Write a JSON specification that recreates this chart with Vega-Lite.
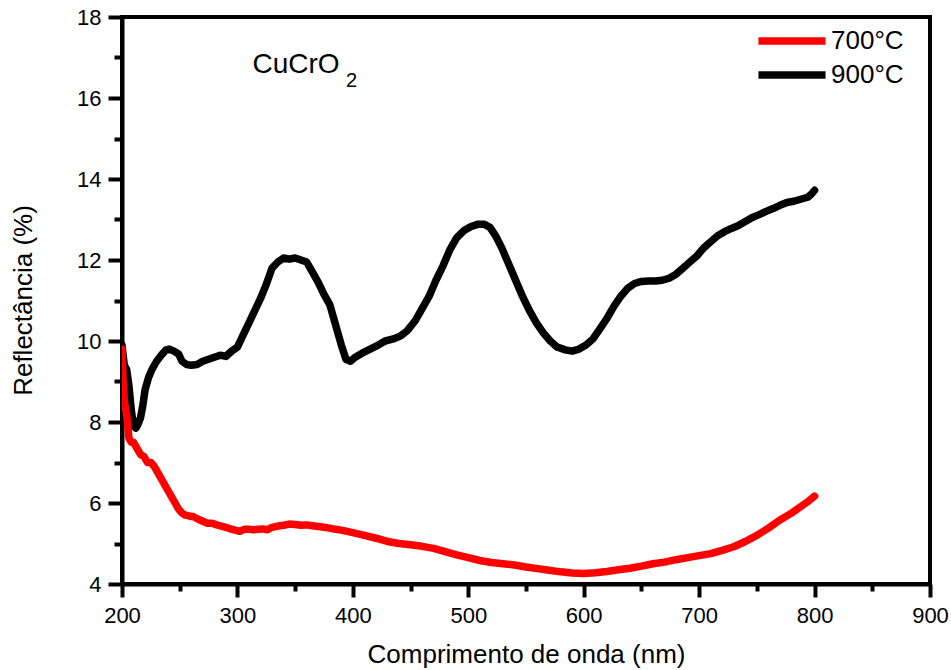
{
  "$schema": "https://vega.github.io/schema/vega-lite/v6.json",
  "width": 808,
  "height": 567,
  "autosize": "none",
  "padding": {"left": 122, "top": 17, "right": 21, "bottom": 86},
  "background": "white",
  "config": {
    "font": "Liberation Sans",
    "view": {"stroke": "black", "strokeWidth": 4},
    "axis": {"grid": false, "domainColor": "black", "domainWidth": 4, "tickColor": "black", "labelColor": "black", "titleColor": "black", "labelFont": "Liberation Sans", "titleFont": "Liberation Sans", "titleFontWeight": "normal", "labelFontSize": 22, "titleFontSize": 26, "tickWidth": 4}
  },
  "datasets": {
    "spectra": [
      {"nm": 200, "R": 9.9, "T": "900°C"}, {"nm": 202, "R": 9.4, "T": "900°C"}, {"nm": 204, "R": 9.3, "T": "900°C"}, {"nm": 206, "R": 8.9, "T": "900°C"}, {"nm": 208, "R": 8.3, "T": "900°C"}, {"nm": 210, "R": 7.9, "T": "900°C"}, {"nm": 212, "R": 7.85, "T": "900°C"}, {"nm": 214, "R": 7.95, "T": "900°C"}, {"nm": 216, "R": 8.1, "T": "900°C"}, {"nm": 218, "R": 8.4, "T": "900°C"}, {"nm": 220, "R": 8.8, "T": "900°C"}, {"nm": 223, "R": 9.1, "T": "900°C"}, {"nm": 226, "R": 9.3, "T": "900°C"}, {"nm": 230, "R": 9.5, "T": "900°C"}, {"nm": 234, "R": 9.65, "T": "900°C"}, {"nm": 238, "R": 9.78, "T": "900°C"}, {"nm": 241, "R": 9.8, "T": "900°C"}, {"nm": 245, "R": 9.75, "T": "900°C"}, {"nm": 249, "R": 9.68, "T": "900°C"}, {"nm": 252, "R": 9.5, "T": "900°C"}, {"nm": 256, "R": 9.42, "T": "900°C"}, {"nm": 260, "R": 9.4, "T": "900°C"}, {"nm": 265, "R": 9.42, "T": "900°C"}, {"nm": 270, "R": 9.5, "T": "900°C"}, {"nm": 275, "R": 9.55, "T": "900°C"}, {"nm": 280, "R": 9.6, "T": "900°C"}, {"nm": 285, "R": 9.65, "T": "900°C"}, {"nm": 290, "R": 9.62, "T": "900°C"}, {"nm": 295, "R": 9.75, "T": "900°C"}, {"nm": 300, "R": 9.85, "T": "900°C"}, {"nm": 305, "R": 10.15, "T": "900°C"}, {"nm": 310, "R": 10.45, "T": "900°C"}, {"nm": 315, "R": 10.75, "T": "900°C"}, {"nm": 320, "R": 11.05, "T": "900°C"}, {"nm": 325, "R": 11.4, "T": "900°C"}, {"nm": 330, "R": 11.8, "T": "900°C"}, {"nm": 335, "R": 11.95, "T": "900°C"}, {"nm": 340, "R": 12.05, "T": "900°C"}, {"nm": 345, "R": 12.02, "T": "900°C"}, {"nm": 350, "R": 12.05, "T": "900°C"}, {"nm": 355, "R": 12.0, "T": "900°C"}, {"nm": 360, "R": 11.95, "T": "900°C"}, {"nm": 365, "R": 11.7, "T": "900°C"}, {"nm": 370, "R": 11.45, "T": "900°C"}, {"nm": 375, "R": 11.15, "T": "900°C"}, {"nm": 380, "R": 10.9, "T": "900°C"}, {"nm": 385, "R": 10.4, "T": "900°C"}, {"nm": 390, "R": 9.9, "T": "900°C"}, {"nm": 394, "R": 9.55, "T": "900°C"}, {"nm": 398, "R": 9.5, "T": "900°C"}, {"nm": 402, "R": 9.6, "T": "900°C"}, {"nm": 408, "R": 9.7, "T": "900°C"}, {"nm": 415, "R": 9.8, "T": "900°C"}, {"nm": 422, "R": 9.9, "T": "900°C"}, {"nm": 428, "R": 10.0, "T": "900°C"}, {"nm": 435, "R": 10.05, "T": "900°C"}, {"nm": 441, "R": 10.12, "T": "900°C"}, {"nm": 447, "R": 10.25, "T": "900°C"}, {"nm": 454, "R": 10.5, "T": "900°C"}, {"nm": 460, "R": 10.8, "T": "900°C"}, {"nm": 466, "R": 11.1, "T": "900°C"}, {"nm": 472, "R": 11.5, "T": "900°C"}, {"nm": 478, "R": 11.85, "T": "900°C"}, {"nm": 484, "R": 12.25, "T": "900°C"}, {"nm": 490, "R": 12.55, "T": "900°C"}, {"nm": 496, "R": 12.72, "T": "900°C"}, {"nm": 502, "R": 12.82, "T": "900°C"}, {"nm": 508, "R": 12.88, "T": "900°C"}, {"nm": 514, "R": 12.88, "T": "900°C"}, {"nm": 519, "R": 12.8, "T": "900°C"}, {"nm": 524, "R": 12.58, "T": "900°C"}, {"nm": 529, "R": 12.3, "T": "900°C"}, {"nm": 535, "R": 11.9, "T": "900°C"}, {"nm": 541, "R": 11.5, "T": "900°C"}, {"nm": 547, "R": 11.1, "T": "900°C"}, {"nm": 553, "R": 10.75, "T": "900°C"}, {"nm": 559, "R": 10.45, "T": "900°C"}, {"nm": 565, "R": 10.2, "T": "900°C"}, {"nm": 571, "R": 10.0, "T": "900°C"}, {"nm": 577, "R": 9.85, "T": "900°C"}, {"nm": 584, "R": 9.78, "T": "900°C"}, {"nm": 590, "R": 9.75, "T": "900°C"}, {"nm": 596, "R": 9.8, "T": "900°C"}, {"nm": 602, "R": 9.9, "T": "900°C"}, {"nm": 608, "R": 10.05, "T": "900°C"}, {"nm": 614, "R": 10.3, "T": "900°C"}, {"nm": 620, "R": 10.55, "T": "900°C"}, {"nm": 626, "R": 10.85, "T": "900°C"}, {"nm": 632, "R": 11.1, "T": "900°C"}, {"nm": 638, "R": 11.3, "T": "900°C"}, {"nm": 644, "R": 11.42, "T": "900°C"}, {"nm": 650, "R": 11.47, "T": "900°C"}, {"nm": 656, "R": 11.48, "T": "900°C"}, {"nm": 662, "R": 11.48, "T": "900°C"}, {"nm": 668, "R": 11.5, "T": "900°C"}, {"nm": 674, "R": 11.55, "T": "900°C"}, {"nm": 680, "R": 11.65, "T": "900°C"}, {"nm": 686, "R": 11.8, "T": "900°C"}, {"nm": 692, "R": 11.95, "T": "900°C"}, {"nm": 698, "R": 12.1, "T": "900°C"}, {"nm": 704, "R": 12.3, "T": "900°C"}, {"nm": 710, "R": 12.45, "T": "900°C"}, {"nm": 716, "R": 12.6, "T": "900°C"}, {"nm": 722, "R": 12.7, "T": "900°C"}, {"nm": 728, "R": 12.78, "T": "900°C"}, {"nm": 734, "R": 12.85, "T": "900°C"}, {"nm": 740, "R": 12.95, "T": "900°C"}, {"nm": 746, "R": 13.05, "T": "900°C"}, {"nm": 752, "R": 13.12, "T": "900°C"}, {"nm": 758, "R": 13.2, "T": "900°C"}, {"nm": 764, "R": 13.27, "T": "900°C"}, {"nm": 770, "R": 13.35, "T": "900°C"}, {"nm": 776, "R": 13.42, "T": "900°C"}, {"nm": 782, "R": 13.45, "T": "900°C"}, {"nm": 788, "R": 13.5, "T": "900°C"}, {"nm": 794, "R": 13.55, "T": "900°C"}, {"nm": 797, "R": 13.62, "T": "900°C"}, {"nm": 800, "R": 13.72, "T": "900°C"},
      {"nm": 200, "R": 9.8, "T": "700°C"}, {"nm": 201, "R": 9.0, "T": "700°C"}, {"nm": 202, "R": 8.5, "T": "700°C"}, {"nm": 204, "R": 8.2, "T": "700°C"}, {"nm": 206, "R": 7.6, "T": "700°C"}, {"nm": 208, "R": 7.5, "T": "700°C"}, {"nm": 210, "R": 7.5, "T": "700°C"}, {"nm": 213, "R": 7.35, "T": "700°C"}, {"nm": 216, "R": 7.2, "T": "700°C"}, {"nm": 219, "R": 7.15, "T": "700°C"}, {"nm": 222, "R": 7.0, "T": "700°C"}, {"nm": 225, "R": 7.0, "T": "700°C"}, {"nm": 228, "R": 6.9, "T": "700°C"}, {"nm": 231, "R": 6.75, "T": "700°C"}, {"nm": 234, "R": 6.6, "T": "700°C"}, {"nm": 237, "R": 6.45, "T": "700°C"}, {"nm": 240, "R": 6.3, "T": "700°C"}, {"nm": 243, "R": 6.15, "T": "700°C"}, {"nm": 246, "R": 6.0, "T": "700°C"}, {"nm": 249, "R": 5.85, "T": "700°C"}, {"nm": 252, "R": 5.75, "T": "700°C"}, {"nm": 255, "R": 5.7, "T": "700°C"}, {"nm": 258, "R": 5.68, "T": "700°C"}, {"nm": 262, "R": 5.66, "T": "700°C"}, {"nm": 266, "R": 5.6, "T": "700°C"}, {"nm": 270, "R": 5.55, "T": "700°C"}, {"nm": 274, "R": 5.5, "T": "700°C"}, {"nm": 278, "R": 5.5, "T": "700°C"}, {"nm": 282, "R": 5.46, "T": "700°C"}, {"nm": 286, "R": 5.43, "T": "700°C"}, {"nm": 290, "R": 5.4, "T": "700°C"}, {"nm": 294, "R": 5.36, "T": "700°C"}, {"nm": 298, "R": 5.33, "T": "700°C"}, {"nm": 302, "R": 5.3, "T": "700°C"}, {"nm": 306, "R": 5.35, "T": "700°C"}, {"nm": 310, "R": 5.35, "T": "700°C"}, {"nm": 314, "R": 5.34, "T": "700°C"}, {"nm": 318, "R": 5.35, "T": "700°C"}, {"nm": 322, "R": 5.36, "T": "700°C"}, {"nm": 326, "R": 5.34, "T": "700°C"}, {"nm": 330, "R": 5.4, "T": "700°C"}, {"nm": 335, "R": 5.43, "T": "700°C"}, {"nm": 340, "R": 5.45, "T": "700°C"}, {"nm": 345, "R": 5.48, "T": "700°C"}, {"nm": 350, "R": 5.47, "T": "700°C"}, {"nm": 355, "R": 5.45, "T": "700°C"}, {"nm": 360, "R": 5.46, "T": "700°C"}, {"nm": 365, "R": 5.44, "T": "700°C"}, {"nm": 370, "R": 5.42, "T": "700°C"}, {"nm": 375, "R": 5.4, "T": "700°C"}, {"nm": 380, "R": 5.38, "T": "700°C"}, {"nm": 385, "R": 5.35, "T": "700°C"}, {"nm": 390, "R": 5.33, "T": "700°C"}, {"nm": 395, "R": 5.3, "T": "700°C"}, {"nm": 400, "R": 5.27, "T": "700°C"}, {"nm": 410, "R": 5.2, "T": "700°C"}, {"nm": 420, "R": 5.13, "T": "700°C"}, {"nm": 430, "R": 5.05, "T": "700°C"}, {"nm": 440, "R": 5.0, "T": "700°C"}, {"nm": 450, "R": 4.97, "T": "700°C"}, {"nm": 460, "R": 4.93, "T": "700°C"}, {"nm": 470, "R": 4.88, "T": "700°C"}, {"nm": 480, "R": 4.8, "T": "700°C"}, {"nm": 490, "R": 4.72, "T": "700°C"}, {"nm": 500, "R": 4.65, "T": "700°C"}, {"nm": 510, "R": 4.58, "T": "700°C"}, {"nm": 520, "R": 4.53, "T": "700°C"}, {"nm": 530, "R": 4.5, "T": "700°C"}, {"nm": 540, "R": 4.47, "T": "700°C"}, {"nm": 550, "R": 4.42, "T": "700°C"}, {"nm": 560, "R": 4.38, "T": "700°C"}, {"nm": 570, "R": 4.34, "T": "700°C"}, {"nm": 580, "R": 4.3, "T": "700°C"}, {"nm": 590, "R": 4.27, "T": "700°C"}, {"nm": 600, "R": 4.26, "T": "700°C"}, {"nm": 610, "R": 4.28, "T": "700°C"}, {"nm": 620, "R": 4.31, "T": "700°C"}, {"nm": 630, "R": 4.35, "T": "700°C"}, {"nm": 640, "R": 4.39, "T": "700°C"}, {"nm": 650, "R": 4.44, "T": "700°C"}, {"nm": 660, "R": 4.5, "T": "700°C"}, {"nm": 670, "R": 4.54, "T": "700°C"}, {"nm": 680, "R": 4.6, "T": "700°C"}, {"nm": 690, "R": 4.65, "T": "700°C"}, {"nm": 700, "R": 4.7, "T": "700°C"}, {"nm": 710, "R": 4.75, "T": "700°C"}, {"nm": 720, "R": 4.83, "T": "700°C"}, {"nm": 730, "R": 4.92, "T": "700°C"}, {"nm": 740, "R": 5.05, "T": "700°C"}, {"nm": 750, "R": 5.2, "T": "700°C"}, {"nm": 760, "R": 5.38, "T": "700°C"}, {"nm": 770, "R": 5.58, "T": "700°C"}, {"nm": 780, "R": 5.75, "T": "700°C"}, {"nm": 790, "R": 5.95, "T": "700°C"}, {"nm": 795, "R": 6.05, "T": "700°C"}, {"nm": 800, "R": 6.17, "T": "700°C"}
    ]
  },
  "layer": [
    {
      "data": {"name": "spectra"},
      "mark": {"type": "line", "strokeWidth": 7.5, "strokeJoin": "round", "strokeCap": "round", "clip": true},
      "encoding": {
        "x": {"field": "nm", "type": "quantitative", "scale": {"domain": [200, 900], "nice": false, "zero": false},
          "axis": {"title": "Comprimento de onda (nm)", "values": [200, 250, 300, 350, 400, 450, 500, 550, 600, 650, 700, 750, 800, 850, 900],
            "labelExpr": "datum.value % 100 === 0 ? datum.label : ''",
            "tickSize": {"condition": {"test": "datum.value % 100 === 0", "value": 13}, "value": 7},
            "labelPadding": 8, "labelFlush": false, "labelOverlap": false,
            "titleX": 404, "titleY": 78, "titleBaseline": "alphabetic", "titleAlign": "center"}},
        "y": {"field": "R", "type": "quantitative", "scale": {"domain": [4, 18], "nice": false, "zero": false},
          "axis": {"title": "Reflectância (%)", "values": [4, 5, 6, 7, 8, 9, 10, 11, 12, 13, 14, 15, 16, 17, 18],
            "labelExpr": "datum.value % 2 === 0 ? datum.label : ''",
            "tickSize": {"condition": {"test": "datum.value % 2 === 0", "value": 14}, "value": 8},
            "labelPadding": 7, "labelFlush": false, "labelOverlap": false,
            "titleX": -99, "titleY": 283, "titleAngle": -90, "titleBaseline": "middle", "titleAlign": "center"}},
        "color": {"field": "T", "type": "nominal", "scale": {"domain": ["700°C", "900°C"], "range": ["#ff0000", "#000000"]},
          "legend": {"title": null, "orient": "none", "legendX": 651, "legendY": 5, "symbolType": "M-2.2,0H2.2", "symbolSize": 930, "symbolStrokeWidth": 7.5, "labelFontSize": 26, "labelFont": "Liberation Sans", "labelColor": "black", "labelOffset": 20, "rowPadding": 0, "padding": 0}}
      }
    },
    {
      "data": {"values": [{"label": "CuCrO"}]},
      "mark": {"type": "text", "fontSize": 28, "align": "left", "baseline": "alphabetic", "color": "black"},
      "encoding": {"x": {"datum": 313}, "y": {"datum": 16.62}, "text": {"field": "label"}}
    },
    {
      "data": {"values": [{"label": "2"}]},
      "mark": {"type": "text", "fontSize": 20, "align": "left", "baseline": "alphabetic", "color": "black"},
      "encoding": {"x": {"datum": 394}, "y": {"datum": 16.27}, "text": {"field": "label"}}
    }
  ]
}
